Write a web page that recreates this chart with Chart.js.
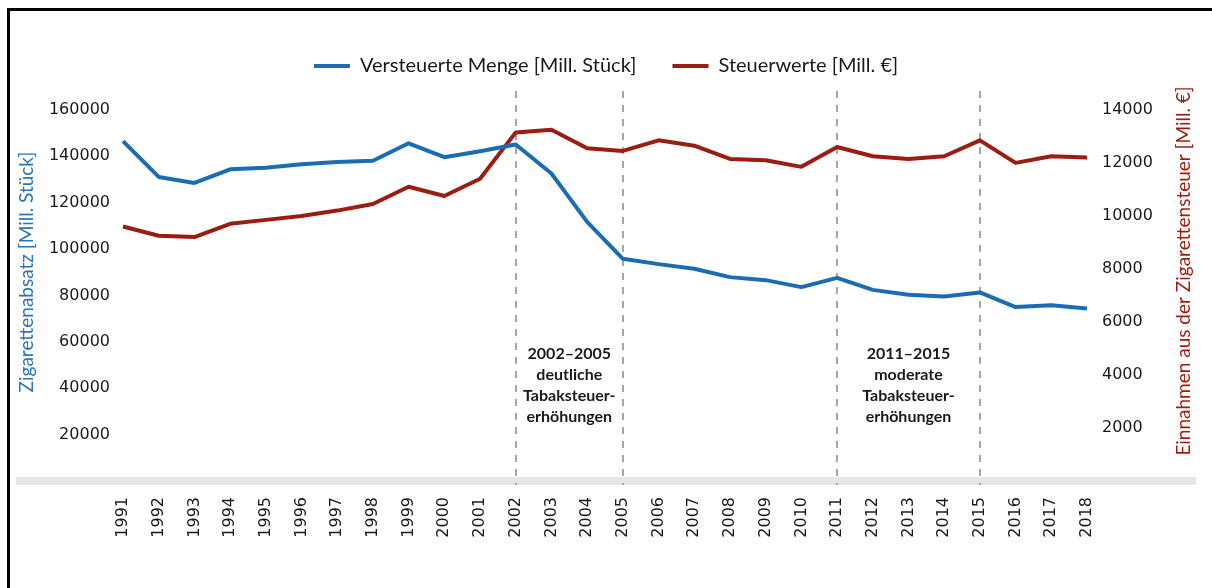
<!DOCTYPE html>
<html>
<head>
<meta charset="utf-8">
<script src="https://cdn.jsdelivr.net/npm/chart.js@4/dist/chart.umd.min.js"></script>
<style>
  body { margin: 0; background: #fff; }
  #wrap { position: relative; width: 1212px; height: 588px; }
  #frame { position: absolute; left: 7px; top: 8px; right: -10px; bottom: -10px;
           border-left: 3px solid #000; border-top: 3px solid #000; pointer-events: none; }
</style>
</head>
<body>
<div id="wrap">
  <canvas id="c" width="1212" height="588"></canvas>
  <div id="frame"></div>
</div>
<script>
'use strict';
// Jahre
const years = ['1991','1992','1993','1994','1995','1996','1997','1998','1999','2000',
  '2001','2002','2003','2004','2005','2006','2007','2008','2009','2010',
  '2011','2012','2013','2014','2015','2016','2017','2018'];

// versteuerte Menge [Mill. Stück]
const menge = [146500,131100,128500,134400,135100,136600,137500,138100,145600,139600,
  142200,145100,132600,111700,95800,93500,91500,87900,86600,83600,
  87600,82400,80300,79500,81300,75000,75800,74400];

// Steuerwerte [Mill. €]
const steuer = [9600,9250,9200,9700,9850,10000,10200,10450,11100,10750,
  11400,13150,13250,12550,12450,12850,12650,12150,12100,11850,
  12600,12250,12150,12250,12850,12000,12250,12200];

// Achsenbeschriftungen
const leftTicks = [20000,40000,60000,80000,100000,120000,140000,160000];
const rightTicks = [2000,4000,6000,8000,10000,12000,14000];

// gestrichelte Linien + Beschriftung
const markerYears = ['2002','2005','2011','2015'];
const spanFrom = ['2002','2011'];
const spanTo = ['2005','2015'];
const spanTexts = [
  ['2002–2005','deutliche','Tabaksteuer-','erhöhungen'],
  ['2011–2015','moderate','Tabaksteuer-','erhöhungen']
];

const leftTitle = 'Zigarettenabsatz [Mill. Stück]';
const rightTitle = 'Einnahmen aus der Zigarettensteuer [Mill. €]';

const BLUE = '#1a6db4';
const RED = '#9b1c10';

const extras = {
  id: 'extras',
  beforeDatasetsDraw(chart) {
    const ctx = chart.ctx;
    const x = chart.scales.x;
    const y0 = chart.scales.y.getPixelForValue(0);
    ctx.save();
    // graues Band als x-Achse
    ctx.fillStyle = '#e6e6e6';
    ctx.fillRect(16, y0 - 4, 1180, 8);
    // gestrichelte Linien
    ctx.strokeStyle = '#a6a6a6';
    ctx.lineWidth = 2;
    ctx.setLineDash([7, 7]);
    markerYears.forEach(function(yr){
      const px = Math.round(x.getPixelForValue(years.indexOf(yr)));
      ctx.beginPath();
      ctx.moveTo(px, chart.chartArea.top + 5);
      ctx.lineTo(px, y0 + 4);
      ctx.stroke();
    });
    ctx.setLineDash([]);
    // Texte
    ctx.fillStyle = '#1a1a1a';
    ctx.font = 'bold 16px Lato';
    ctx.textAlign = 'center';
    ctx.textBaseline = 'middle';
    spanTexts.forEach(function(lines, i){
      const a = x.getPixelForValue(years.indexOf(spanFrom[i]));
      const b = x.getPixelForValue(years.indexOf(spanTo[i]));
      lines.forEach(function(t, j){
        ctx.fillText(t, (a + b) / 2, 354 + j * 21);
      });
    });
    // Achsentitel
    ctx.font = '19px Lato';
    ctx.fillStyle = '#2a75bb';
    ctx.save();
    ctx.translate(27, 272);
    ctx.rotate(-Math.PI / 2);
    ctx.fillText(leftTitle, 0, 0);
    ctx.restore();
    ctx.fillStyle = RED;
    ctx.save();
    ctx.translate(1184, 271);
    ctx.rotate(-Math.PI / 2);
    ctx.fillText(rightTitle, 0, 0);
    ctx.restore();
    ctx.restore();
  }
};

const tickFont = { family: 'DejaVu Sans', size: 16 };

new Chart(document.getElementById('c'), {
  type: 'line',
  data: {
    labels: years,
    datasets: [
      { label: 'Versteuerte Menge [Mill. Stück]', data: menge, yAxisID: 'y',
        borderColor: BLUE, backgroundColor: BLUE, borderWidth: 4, pointRadius: 0,
        tension: 0, borderJoinStyle: 'round' },
      { label: 'Steuerwerte [Mill. €]', data: steuer, yAxisID: 'y1',
        borderColor: RED, backgroundColor: RED, borderWidth: 4, pointRadius: 0,
        tension: 0, borderJoinStyle: 'round' }
    ]
  },
  options: {
    responsive: false,
    animation: false,
    layout: { padding: { top: 20, left: 0, right: 0, bottom: 0 } },
    plugins: {
      tooltip: { enabled: false },
      legend: {
        position: 'top',
        labels: {
          color: '#1a1a1a',
          font: { family: 'Lato', size: 20 },
          boxWidth: 36,
          boxHeight: 4,
          padding: 36,
          generateLabels(chart) {
            const items = Chart.defaults.plugins.legend.labels.generateLabels(chart);
            items.forEach(function(it){ it.lineWidth = 0; it.fillStyle = it.strokeStyle; });
            return items;
          }
        }
      }
    },
    scales: {
      x: {
        grid: { display: false, drawTicks: false },
        border: { display: false },
        ticks: { color: '#1a1a1a', font: tickFont, minRotation: 90, maxRotation: 90, padding: 16, autoSkip: false },
        afterFit(s) { s.height = 107; }
      },
      y: {
        position: 'left',
        min: 0, max: 170300,
        grid: { display: false, drawTicks: false },
        border: { display: false },
        ticks: { color: '#1a1a1a', font: tickFont, padding: 13, callback(v) { return String(v); } },
        afterBuildTicks(s) { s.ticks = leftTicks.map(function(v){ return { value: v }; }); },
        afterFit(s) { s.width = 123; }
      },
      y1: {
        position: 'right',
        min: 0, max: 14900,
        grid: { display: false, drawTicks: false },
        border: { display: false },
        ticks: { color: '#1a1a1a', font: tickFont, padding: 15, callback(v) { return String(v); } },
        afterBuildTicks(s) { s.ticks = rightTicks.map(function(v){ return { value: v }; }); },
        afterFit(s) { s.width = 125; }
      }
    }
  },
  plugins: [extras]
});
</script>
</body>
</html>
